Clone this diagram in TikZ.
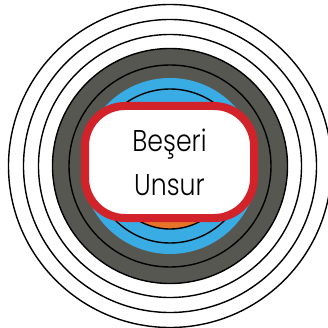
\documentclass[tikz,border=0pt]{standalone}
\usepackage{fontspec}
\setmainfont{Poppins}[UprightFont={* Light}]
\usepackage{xcolor}
\usepackage{graphicx}
\usepackage{tikz}
\definecolor{ringgray}{RGB}{87,87,82}
\definecolor{ringblue}{RGB}{58,172,228}
\definecolor{ringred}{RGB}{210,35,42}
\definecolor{ringorange}{RGB}{232,116,42}

\begin{document}
\begin{tikzpicture}[x=1pt,y=-1pt,ring/.style={black,line width=1.4pt}]
\useasboundingbox (0,0) rectangle (328,328);
\clip (0,0) rectangle (328,328);
\coordinate (c) at (170,166);
\foreach \r in {161.5,146.5,131.5} \draw[ring] (c) circle (\r);
\filldraw[ring,fill=ringgray] (c) circle (117.5);
\draw[ring] (c) circle (101);
\fill[ringblue] (c) circle (88);
\draw[ring] (c) circle (77);
\filldraw[ring,fill=ringorange] (c) circle (63);
\node[draw=ringred,line width=8pt,fill=white,rounded corners=40pt,
  minimum width=169pt,minimum height=112pt,align=center,
  font=\fontsize{30}{44}\selectfont] (unsur) at (169.5,162)
  {\scalebox{0.84}[1]{Beşeri}\\\scalebox{0.84}[1]{Unsur}};
\end{tikzpicture}
\end{document}
